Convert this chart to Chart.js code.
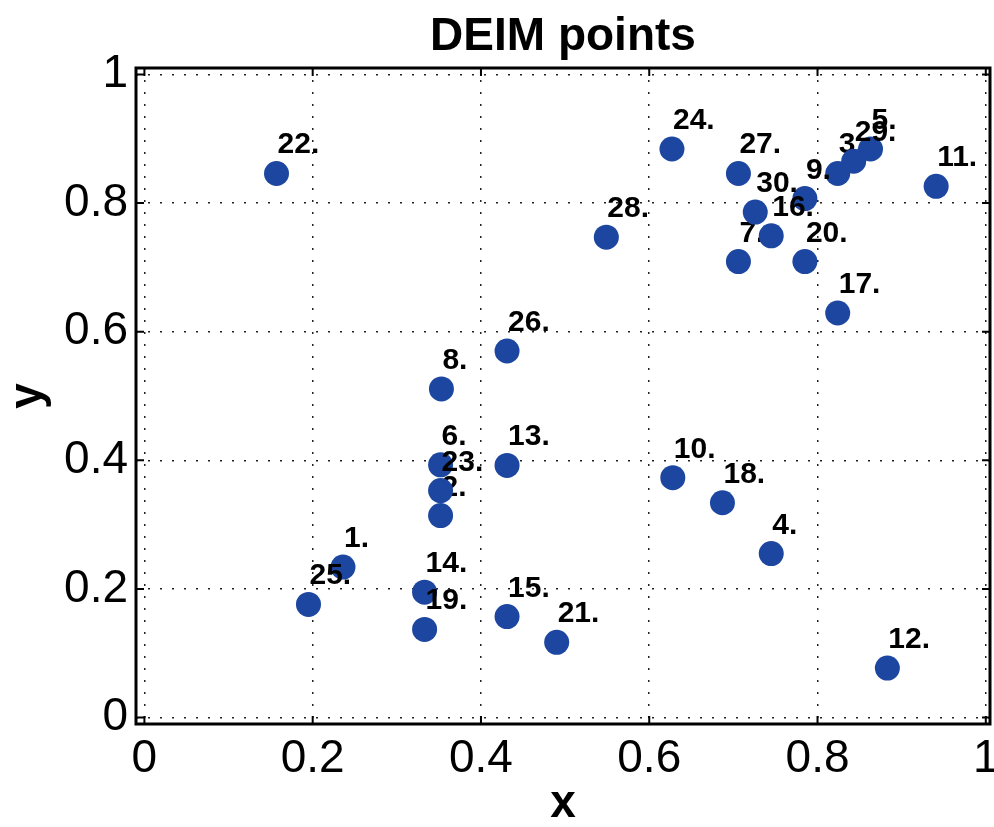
<!DOCTYPE html>
<html>
<head>
<meta charset="utf-8">
<title>DEIM points</title>
<script src="https://cdn.jsdelivr.net/npm/chart.js@4/dist/chart.umd.min.js"></script>
<style>
  html, body { margin: 0; padding: 0; background: #fff; }
  #wrap { width: 994px; height: 827px; }
</style>
</head>
<body>
<div id="wrap"><canvas id="myChart" width="994" height="827"></canvas></div>
<script>
// DEIM point coordinates, point i+1 is (xs[i], ys[i])
var xs = [0.236, 0.352, 0.824, 0.745, 0.863, 0.352, 0.706, 0.353, 0.785, 0.628,
          0.941, 0.883, 0.431, 0.333, 0.431, 0.745, 0.824, 0.687, 0.333, 0.785,
          0.490, 0.157, 0.352, 0.627, 0.195, 0.431, 0.706, 0.549, 0.843, 0.726];
var ys = [0.234, 0.314, 0.846, 0.255, 0.884, 0.393, 0.709, 0.511, 0.807, 0.373,
          0.826, 0.077, 0.392, 0.195, 0.157, 0.749, 0.629, 0.334, 0.137, 0.709,
          0.117, 0.846, 0.353, 0.884, 0.176, 0.570, 0.846, 0.747, 0.865, 0.786];
var pointLabels = xs.map(function (v, i) { return (i + 1) + '.'; });

var xTicks = [0, 0.2, 0.4, 0.6, 0.8, 1];
var xTickLabels = ['0', '0.2', '0.4', '0.6', '0.8', '1'];
var yTicks = [0, 0.2, 0.4, 0.6, 0.8, 1];
var yTickLabels = ['0', '0.2', '0.4', '0.6', '0.8', '1'];

var blue = '#1c46a0';
var fontFam = '"Liberation Sans", Helvetica, Arial, sans-serif';

// one dataset per point so the label can be drawn right after its own marker
var datasets = xs.map(function (x, i) {
    return {
        label: pointLabels[i],
        data: [{ x: x, y: ys[i] }],
        pointRadius: 12.5,
        pointHoverRadius: 12.5,
        pointBackgroundColor: blue,
        pointBorderWidth: 0,
        showLine: false,
        order: -i
    };
});

var labelPlugin = {
    id: 'pointText',
    afterDatasetDraw: function (chart, args) {
        var el = args.meta.data[0];
        var ctx = chart.ctx;
        ctx.save();
        ctx.font = 'bold 30px ' + fontFam;
        ctx.fillStyle = '#000';
        ctx.textAlign = 'left';
        ctx.textBaseline = 'alphabetic';
        ctx.fillText(pointLabels[args.index], el.x + 1, el.y - 20);
        ctx.restore();
    }
};

var boxPlugin = {
    id: 'axesBox',
    afterDraw: function (chart) {
        var a = chart.chartArea;
        var ctx = chart.ctx;
        var sx = chart.scales.x, sy = chart.scales.y;
        ctx.save();
        ctx.strokeStyle = '#000';
        // inward tick marks
        ctx.lineWidth = 2;
        ctx.beginPath();
        xTicks.forEach(function (v) {
            var p = sx.getPixelForValue(v);
            ctx.moveTo(p, a.bottom); ctx.lineTo(p, a.bottom - 8);
            ctx.moveTo(p, a.top); ctx.lineTo(p, a.top + 8);
        });
        yTicks.forEach(function (v) {
            var p = sy.getPixelForValue(v);
            ctx.moveTo(a.left, p); ctx.lineTo(a.left + 8, p);
            ctx.moveTo(a.right, p); ctx.lineTo(a.right - 8, p);
        });
        ctx.stroke();
        ctx.lineWidth = 3;
        ctx.strokeRect(a.left, a.top, a.right - a.left, a.bottom - a.top);
        ctx.restore();
    }
};

var ctx = document.getElementById('myChart').getContext('2d');
new Chart(ctx, {
    type: 'scatter',
    data: { datasets: datasets },
    plugins: [labelPlugin, boxPlugin],
    options: {
        responsive: false,
        animation: false,
        events: [],
        layout: { autoPadding: false, padding: { left: 0, right: 4, top: 0, bottom: 0 } },
        plugins: {
            legend: { display: false },
            tooltip: { enabled: false },
            title: {
                display: true,
                fullSize: false,
                text: 'DEIM points',
                color: '#000',
                font: { family: fontFam, size: 46, weight: 'bold', lineHeight: 1 },
                padding: { top: 14, bottom: 8 }
            }
        },
        scales: {
            x: {
                type: 'linear',
                min: -0.01,
                max: 1.005,
                afterBuildTicks: function (s) { s.ticks = xTicks.map(function (v) { return { value: v }; }); },
                afterFit: function (s) { s.height = 103; s.paddingLeft = 0; s.paddingRight = 0; },
                ticks: {
                    autoSkip: false,
                    maxRotation: 0,
                    padding: 12,
                    color: '#000',
                    font: { family: fontFam, size: 46, lineHeight: 1 },
                    callback: function (v, i) { return xTickLabels[i]; }
                },
                grid: {
                    color: '#222',
                    lineWidth: 1.5,
                    drawTicks: false
                },
                border: { display: false, dash: [2, 10] },
                title: {
                    display: true,
                    text: 'x',
                    color: '#000',
                    font: { family: fontFam, size: 46, weight: 'bold', lineHeight: 1 },
                    padding: { top: 0, bottom: 0 }
                }
            },
            y: {
                type: 'linear',
                min: -0.01,
                max: 1.01,
                afterBuildTicks: function (s) { s.ticks = yTicks.map(function (v) { return { value: v }; }); },
                afterFit: function (s) { s.width = 136; s.paddingTop = 0; s.paddingBottom = 0; },
                ticks: {
                    padding: 8,
                    color: '#000',
                    font: { family: fontFam, size: 46, lineHeight: 1 },
                    callback: function (v, i) { return yTickLabels[i]; }
                },
                grid: {
                    color: '#222',
                    lineWidth: 1.5,
                    drawTicks: false
                },
                border: { display: false, dash: [2, 10] },
                title: {
                    display: true,
                    text: 'y',
                    color: '#000',
                    font: { family: fontFam, size: 46, weight: 'bold', lineHeight: 1 },
                    padding: { top: 5, bottom: 0 }
                }
            }
        }
    }
});
</script>
</body>
</html>
